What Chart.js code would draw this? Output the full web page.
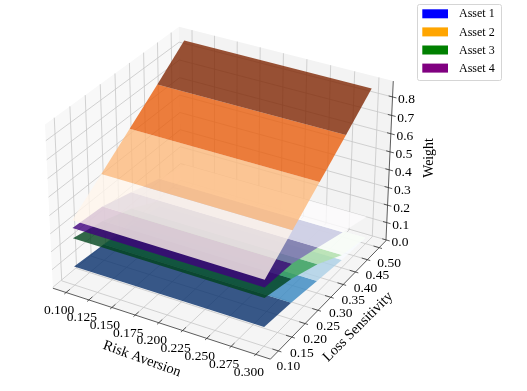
<!DOCTYPE html>
<html>
<head>
<meta charset="utf-8">
<script src="https://cdn.jsdelivr.net/npm/chart.js@4/dist/chart.umd.js"></script>
<style>
  html, body { margin: 0; background: #fff; }
  canvas { display: block; }
</style>
</head>
<body>
<canvas id="chart" width="527" height="391"></canvas>
<script>
const riskAversion = [0.1, 0.3];
const lossSensitivity = [0.1, 0.2, 0.3, 0.4, 0.5];
const asset1 = [0.101, 0.086, 0.063, 0.04, 0.03];
const asset2 = [0.357, 0.48, 0.605, 0.73, 0.86];
const asset3 = [0.258, 0.219, 0.157, 0.068, 0.03];
const asset4 = [0.315, 0.30, 0.25, 0.197, 0.15];

const xTicks = ["0.100", "0.125", "0.150", "0.175", "0.200", "0.225", "0.250", "0.275", "0.300"];
const yTicks = ["0.10", "0.15", "0.20", "0.25", "0.30", "0.35", "0.40", "0.45", "0.50"];
const zTicks = ["0.0", "0.1", "0.2", "0.3", "0.4", "0.5", "0.6", "0.7", "0.8"];

const xLim = [0.0854, 0.3146];
const yLim = [0.0708, 0.5292];
const zLim = [-0.005, 0.885];

const legendNames = ["Asset 1", "Asset 2", "Asset 3", "Asset 4"];
const legendColors = ["#0000ff", "#ffa500", "#008000", "#800080"];

// band colours are the Blues/Oranges/Greens/Purples maps, low z to high z
const blues = ["#f7fbff", "#abd0e6", "#3787c0", "#08306b"];
const oranges = ["#fff5eb", "#fdb97c", "#e95e0d", "#7f2704"];
const greens = ["#f7fcf5", "#aedfa7", "#37a055", "#00441b"];
const purples = ["#fcfbfd", "#c5c6e1", "#796eb2", "#3f007d"];

const box = [1.1905, 1.1905, 0.8929];
const u = [0.866, 0.5, 0];
const v = [-0.25, 0.433, 0.866];
const w = [0.433, -0.75, 0.5];

function project(x, y, z) {
  const d = [
    ((x - xLim[0]) / (xLim[1] - xLim[0]) - 0.5) * box[0],
    ((y - yLim[0]) / (yLim[1] - yLim[0]) - 0.5) * box[1],
    ((z - zLim[0]) / (zLim[1] - zLim[0]) - 0.5) * box[2],
  ];
  const dot = (a) => a[0] * d[0] + a[1] * d[1] + a[2] * d[2];
  const t = 10 - dot(w);
  return { x: dot(u) / t, y: dot(v) / t };
}

function withAlpha(hex, alpha) {
  const n = parseInt(hex.slice(1), 16);
  return `rgba(${n >> 16},${(n >> 8) & 255},${n & 255},${alpha})`;
}

function polygon(points, color) {
  return {
    data: points.map((p) => project(p[0], p[1], p[2])),
    showLine: true,
    fill: "shape",
    backgroundColor: color,
    borderWidth: 0,
    pointRadius: 0,
  };
}

function path(points, color, width) {
  return {
    data: points.map((p) => project(p[0], p[1], p[2])),
    showLine: true,
    fill: false,
    borderColor: color,
    borderWidth: width,
    pointRadius: 0,
  };
}

function surface(values, colors) {
  const rising = values[values.length - 1] > values[0];
  const out = [];
  for (let i = 0; i < lossSensitivity.length - 1; i++) {
    const idx = rising ? i : 3 - i;
    const [x0, x1] = riskAversion;
    const y0 = lossSensitivity[i];
    const y1 = lossSensitivity[i + 1];
    out.push(polygon([
      [x0, y0, values[i]], [x1, y0, values[i]],
      [x1, y1, values[i + 1]], [x0, y1, values[i + 1]], [x0, y0, values[i]],
    ], withAlpha(colors[idx], 0.8)));
  }
  return out;
}

const [x0, x1] = xLim;
const [y0, y1] = yLim;
const [z0, z1] = zLim;
const GRID = "#c6c6c6";
const paint = [
  polygon([[x0, y0, z0], [x0, y1, z0], [x0, y1, z1], [x0, y0, z1], [x0, y0, z0]], "#f8f8f8"),
  polygon([[x0, y1, z0], [x1, y1, z0], [x1, y1, z1], [x0, y1, z1], [x0, y1, z0]], "#f3f3f3"),
  polygon([[x0, y0, z0], [x1, y0, z0], [x1, y1, z0], [x0, y1, z0], [x0, y0, z0]], "#f5f5f5"),
];
xTicks.forEach((t) => paint.push(path([[+t, y0, z0], [+t, y1, z0], [+t, y1, z1]], GRID, 0.8)));
yTicks.forEach((t) => paint.push(path([[x1, +t, z0], [x0, +t, z0], [x0, +t, z1]], GRID, 0.8)));
zTicks.forEach((t) => paint.push(path([[x0, y0, +t], [x0, y1, +t], [x1, y1, +t]], GRID, 0.8)));
paint.push(path([[x0, y0, z0], [x1, y0, z0], [x1, y1, z0], [x1, y1, z1]], "#333", 0.8));
xTicks.forEach((t) => paint.push(path([[+t, y0 + 0.012, z0], [+t, y0 - 0.006, z0]], "#333", 0.8)));
yTicks.forEach((t) => paint.push(path([[x1 - 0.006, +t, z0], [x1 + 0.003, +t, z0]], "#333", 0.8)));
zTicks.forEach((t) => paint.push(path([[x1 - 0.004, y1, +t], [x1 + 0.004, y1, +t]], "#333", 0.8)));
paint.push(...surface(asset1, blues));
paint.push(...surface(asset3, greens));
paint.push(...surface(asset4, purples));
paint.push(...surface(asset2, oranges));

const axisText = {
  id: "axisText",
  afterDatasetsDraw(chart) {
    const { ctx, scales } = chart;
    const at = (p) => [scales.x.getPixelForValue(p.x), scales.y.getPixelForValue(p.y)];
    ctx.save();
    ctx.fillStyle = "#000";
    ctx.textBaseline = "middle";
    ctx.textAlign = "center";
    ctx.font = '13.5px "Liberation Serif"';
    xTicks.forEach((t) => {
      const [px, py] = at(project(+t, y0, z0));
      ctx.fillText(t, px - 7, py + 18);
    });
    yTicks.forEach((t) => {
      const [px, py] = at(project(x1, +t, z0));
      ctx.fillText(t, px + 10, py + 16);
    });
    zTicks.forEach((t) => {
      const [px, py] = at(project(x1, y1, +t));
      ctx.fillText(t, px + 14, py + 3);
    });

    const rotated = (text, x, y, deg) => {
      ctx.save();
      ctx.translate(x, y);
      ctx.rotate((deg * Math.PI) / 180);
      ctx.fillText(text, 0, 0);
      ctx.restore();
    };
    ctx.font = '14.4px "Liberation Serif"';
    rotated("Risk Aversion", 142, 359, 20);
    rotated("Loss Sensitivity", 358, 327, -45);
    ctx.font = '13.8px "Liberation Serif"';
    rotated("Weight", 429, 158, -90);

    // legend
    ctx.beginPath();
    ctx.roundRect(417.5, 4.5, 84, 76, 2);
    ctx.fillStyle = "rgba(255,255,255,0.8)";
    ctx.fill();
    ctx.strokeStyle = "#d5d5d5";
    ctx.lineWidth = 1;
    ctx.stroke();
    ctx.font = '12px "Liberation Serif"';
    ctx.textAlign = "left";
    legendNames.forEach((name, i) => {
      const top = 9.3 + i * 18.1;
      ctx.fillStyle = legendColors[i];
      ctx.fillRect(422.3, top, 25.7, 9);
      ctx.fillStyle = "#000";
      ctx.fillText(name, 459, top + 5);
    });
    ctx.restore();
  },
};

new Chart(document.getElementById("chart"), {
  type: "scatter",
  data: { datasets: paint.reverse() },
  options: {
    responsive: false,
    animation: false,
    layout: { padding: 0 },
    plugins: { legend: { display: false }, tooltip: { enabled: false } },
    scales: {
      x: { display: false, min: -222.5 / 2093, max: (527 - 222.5) / 2093 },
      y: { display: false, min: (185 - 391) / 2090, max: 185 / 2090 },
    },
  },
  plugins: [axisText],
});
</script>
</body>
</html>
